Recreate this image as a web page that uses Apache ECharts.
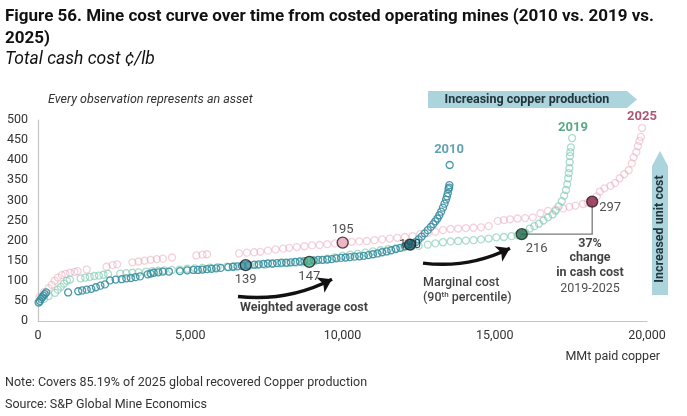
<!DOCTYPE html>
<html>
<head>
<meta charset="utf-8">
<script src="https://cdn.jsdelivr.net/npm/echarts@6/dist/echarts.min.js"></script>
<style>
  html, body { margin: 0; padding: 0; background: #fff; }
  #chart { width: 687px; height: 416px; }
</style>
</head>
<body>
<div id="chart"></div>
<script>
// [cumulative paid copper, total cash cost c/lb] — one point per asset
const mines2010 = [[20,46],[60,50],[100,55],[140,59],[180,63],[220,67],[270,71],[990,71],[1320,74],[1450,76],[1600,78],[1750,80],[1900,84],[2050,88],[2200,91],[2365,101],[2550,103],[2750,104],[2900,106],[3050,107],[3200,109],[3350,111],[3600,116],[3700,118],[3800,120],[3950,121],[4100,123],[4300,123],[4660,124],[4900,126],[5100,127],[5250,127],[5400,128],[5550,129],[5700,130],[5850,131],[6000,132],[6250,134],[6400,135],[6550,136],[6700,137],[6900,139],[7100,140],[7250,141],[7400,142],[7550,143],[7700,143],[7850,144],[8000,145],[8150,145],[8300,146],[8450,147],[8600,148],[8750,149],[8900,150],[9050,151],[9200,152],[9350,152],[9500,153],[9650,154],[9800,156],[9950,157],[10100,158],[10250,159],[10400,160],[10550,161],[10700,162],[10850,164],[11000,166],[11150,168],[11300,171],[11450,173],[11600,176],[11750,179],[11900,182],[12050,186],[12150,188],[12300,192],[12400,196],[12500,203],[12600,210],[12700,218],[12800,226],[12900,234],[12980,241],[13050,248],[13120,255],[13180,263],[13240,272],[13300,282],[13350,292],[13400,302],[13430,310],[13460,318],[13480,328],[13500,332],[13510,338],[13520,388]];
const mines2019 = [[60,48],[200,55],[350,62],[560,70],[650,78],[750,85],[850,93],[950,100],[1050,103],[1400,106],[1550,108],[1700,110],[1850,112],[2000,113],[2150,115],[2300,117],[2700,118],[2900,119],[3100,120],[3300,121],[3550,123],[3750,124],[3950,125],[4150,126],[4400,127],[4650,128],[4900,130],[5150,131],[5400,132],[5650,133],[5900,134],[6200,135],[6450,136],[6700,137],[6950,138],[7200,139],[7450,140],[7700,142],[7950,143],[8200,144],[8450,145],[8700,146],[9100,149],[9300,152],[9500,155],[9750,158],[10000,162],[10250,165],[10500,167],[10750,170],[11000,173],[11250,176],[11500,179],[11750,181],[12000,183],[12250,185],[12500,187],[12800,190],[13050,193],[13300,196],[13550,198],[13800,199],[14050,200],[14300,201],[14550,203],[14800,205],[15050,208],[15300,209],[15550,211],[15750,213],[16000,220],[16150,230],[16300,236],[16450,242],[16600,250],[16750,258],[16900,265],[17000,274],[17100,285],[17200,298],[17280,312],[17340,326],[17380,340],[17410,355],[17430,368],[17450,380],[17460,395],[17470,410],[17480,420],[17500,432],[17540,455]];
const mines2025 = [[50,60],[200,72],[350,82],[450,90],[550,100],[650,108],[780,114],[900,117],[1050,120],[1200,122],[1300,124],[1600,128],[2250,135],[2450,139],[2600,141],[3100,146],[3300,148],[3500,150],[3700,152],[3900,154],[4100,155],[4400,158],[5200,163],[5400,165],[5550,166],[6600,168],[6860,170],[7100,171],[7300,172],[7550,175],[7800,178],[8050,180],[8250,182],[8500,184],[8750,186],[9000,188],[9250,189],[9500,191],[9750,193],[10300,197],[10550,198],[10800,199],[11050,201],[11300,203],[11550,205],[11800,207],[12050,209],[12300,211],[12550,216],[12800,219],[13050,222],[13300,226],[13550,229],[13800,230],[14050,231],[14300,232],[14550,233],[14800,236],[15100,249],[15300,251],[15500,253],[15750,255],[16000,256],[16250,258],[16500,268],[16750,274],[17000,277],[17250,280],[17450,284],[17650,287],[17900,291],[18050,294],[18350,310],[18450,322],[18600,330],[18800,336],[18950,343],[19100,355],[19250,365],[19400,375],[19500,392],[19560,407],[19650,420],[19700,435],[19750,448],[19800,458],[19836,480]];

// highlighted points: weighted average cost and marginal (90th pct) cost
const years = ['2010', '2019', '2025'];
const wacX = [6820, 8910, 10005];
const wacY = [139, 147, 195];
const mcX = [12217, 15885, 18200];
const mcY = [190, 216, 297];
const yTicks = [0, 50, 100, 150, 200, 250, 300, 350, 400, 450, 500];
const xTicks = [0, 5000, 10000, 15000, 20000];

const teal = '#3a8fa1', mint = '#7fcbb0', pink = '#e59bb0';
const wacColors = ['#3b8c9e', '#4db088', '#e8a3b7'];
const mcColors = ['#1f5e6c', '#166b47', '#8c1c42'];
const yearColors = ['#3a8ca1', '#2f936a', '#9c2a50'];
const FONT = 'Roboto, "Liberation Sans", sans-serif';
const NARROW = '"Liberation Sans Narrow", "Roboto", sans-serif';

var myChart = echarts.init(document.getElementById('chart'));

function cloud(name, data, color, opacity) {
  return {
    name: name, type: 'scatter', data: data, symbol: 'circle', symbolSize: 7,
    itemStyle: { color: 'rgba(255,255,255,0)', borderColor: color, borderWidth: 1.3, opacity: opacity },
    silent: true
  };
}

// label-only helper points
function note(x, y, text, style) {
  return { value: [x, y], label: Object.assign({ show: true, formatter: text }, style) };
}

const bigMarker = (x, y, c) => ({ value: [x, y], itemStyle: { color: c } });

myChart.setOption({
  animation: false,
  grid: { left: 38, right: 40, top: 120, bottom: 95 },
  xAxis: {
    type: 'value', min: xTicks[0], max: xTicks[xTicks.length - 1], interval: 5000,
    axisLine: { lineStyle: { color: '#c4c4c4', width: 1.2 } },
    axisTick: { show: false }, splitLine: { show: false },
    axisLabel: { color: '#333', fontSize: 12.5, fontFamily: FONT, margin: 8,
      formatter: v => v.toLocaleString('en-US') }
  },
  yAxis: {
    type: 'value', min: yTicks[0], max: yTicks[yTicks.length - 1], interval: 50,
    axisLine: { show: true, lineStyle: { color: '#c4c4c4', width: 1.2 } },
    axisTick: { show: false }, splitLine: { show: false },
    axisLabel: { color: '#333', fontSize: 12.5, fontFamily: FONT, margin: 10 }
  },
  series: [
    cloud('2025', mines2025, pink, 0.45),
    cloud('2019', mines2019, mint, 0.65),
    cloud('2010', mines2010, teal, 0.9),
    // 2010 marginal label sits behind its marker, like the original
    {
      type: 'scatter', symbolSize: 0, silent: true, z: 3,
      data: [note(mcX[0], mcY[0], String(mcY[0]), { position: 'inside', color: '#222', fontSize: 13, fontFamily: FONT })]
    },
    // bracket 2019 -> 2025 marginal cost
    {
      type: 'lines', coordinateSystem: 'cartesian2d', polyline: true, silent: true, z: 4,
      symbol: ['none', 'triangle'], symbolSize: 9,
      lineStyle: { color: '#7a7a7a', width: 1.3, opacity: 1 },
      itemStyle: { color: '#111' },
      data: [{ coords: [[mcX[1], mcY[1]], [mcX[2], mcY[1]], [mcX[2], mcY[2] - 9]] }]
    },
    // curved call-out arrows
    {
      type: 'lines', coordinateSystem: 'cartesian2d', silent: true, z: 4,
      symbol: ['none', 'arrow'], symbolSize: 13,
      lineStyle: { color: '#111', width: 3.5, curveness: -0.15, opacity: 1 },
      data: [
        { coords: [[6568, 61], [9655, 104]] },
        { coords: [[12644, 144], [15500, 181]] }
      ]
    },
    {
      type: 'scatter', symbolSize: 11, silent: true, z: 5,
      itemStyle: { borderColor: '#222', borderWidth: 1.4 },
      data: wacX.map((x, i) => bigMarker(x, wacY[i], wacColors[i]))
        .concat(mcX.map((x, i) => bigMarker(x, mcY[i], mcColors[i])))
    },
    // value labels and text notes
    {
      type: 'scatter', symbolSize: 0, silent: true, z: 6, clip: false,
      data: [
        note(wacX[0], wacY[0], String(wacY[0]), { position: 'bottom', distance: 8, color: '#222', fontSize: 13, fontFamily: FONT }),
        note(wacX[1], wacY[1], String(wacY[1]), { position: 'bottom', distance: 8, color: '#222', fontSize: 13, fontFamily: FONT }),
        note(wacX[2], wacY[2], String(wacY[2]), { position: 'top', distance: 6, color: '#222', fontSize: 13, fontFamily: FONT }),
        note(mcX[1], mcY[1], String(mcY[1]), { position: [4, 8], color: '#222', fontSize: 13, fontFamily: FONT }),
        note(mcX[2], mcY[2], String(mcY[2]), { position: [7, 0], color: '#222', fontSize: 13, fontFamily: FONT }),
        note(13500, 425, years[0], { position: 'inside', color: yearColors[0], fontSize: 13, fontWeight: 'bold', fontFamily: FONT }),
        note(17570, 480, years[1], { position: 'inside', color: yearColors[1], fontSize: 13, fontWeight: 'bold', fontFamily: FONT }),
        note(19836, 508, years[2], { position: 'inside', color: yearColors[2], fontSize: 13, fontWeight: 'bold', fontFamily: FONT }),
        note(6634, 32, 'Weighted average cost', { position: 'right', distance: 0, color: '#111', fontSize: 12.5, fontWeight: 'bold', fontFamily: FONT }),
        note(12644, 94, 'Marginal cost', { position: 'right', distance: 0, color: '#111', fontSize: 12.5, fontWeight: 500, fontFamily: FONT }),
        note(12644, 57, '(90{sup|th} percentile)', { position: 'right', distance: 0, color: '#111', fontSize: 12.5, fontWeight: 500, fontFamily: FONT,
          rich: { sup: { fontSize: 8, verticalAlign: 'top', padding: [0, 0, 6, 0], color: '#111', fontFamily: FONT } } }),
        note(18128, 193, '37%', { position: 'inside', color: '#111', fontSize: 12.5, fontWeight: 'bold', fontFamily: FONT }),
        note(18128, 156, 'change', { position: 'inside', color: '#111', fontSize: 12.5, fontWeight: 'bold', fontFamily: FONT }),
        note(18128, 119, 'in cash cost', { position: 'inside', color: '#111', fontSize: 12.5, fontWeight: 'bold', fontFamily: FONT }),
        note(18128, 81, '2019-2025', { position: 'inside', color: '#222', fontSize: 12.5, fontFamily: FONT })
      ]
    }
  ],
  graphic: [
    { type: 'text', left: 5, top: 6, style: { text: 'Figure 56. Mine cost curve over time from costed operating mines (2010 vs. 2019 vs.\n2025)',
      font: 'bold 17px ' + NARROW, fill: '#111', lineHeight: 22 } },
    { type: 'text', left: 5, top: 51, style: { text: 'Total cash cost ¢/lb', font: 'italic 17.5px ' + NARROW, fill: '#111' } },
    { type: 'text', left: 48, top: 93, style: { text: 'Every observation represents an asset', font: 'italic 12.5px ' + FONT, fill: '#333' } },
    { type: 'polygon', shape: { points: [[428, 91], [627, 91], [637, 99.5], [627, 108], [428, 108]] }, style: { fill: '#acd4dc' } },
    { type: 'text', x: 527, y: 100, style: { text: 'Increasing copper production', font: 'bold 12.5px ' + FONT, fill: '#22343c',
      textAlign: 'center', textVerticalAlign: 'middle' } },
    { type: 'polygon', shape: { points: [[652, 166], [660, 151], [668, 166], [668, 295], [652, 295]] }, style: { fill: '#acd4dc' } },
    { type: 'text', x: 660, y: 229, rotation: Math.PI / 2, style: { text: 'Increased unit cost', font: 'bold 12.5px ' + FONT, fill: '#22343c',
      textAlign: 'center', textVerticalAlign: 'middle' } },
    { type: 'text', right: 27, top: 350, style: { text: 'MMt paid copper', font: '12.5px ' + FONT, fill: '#333' } },
    { type: 'text', left: 5, top: 376, style: { text: 'Note: Covers 85.19% of 2025 global recovered Copper production', font: '12.5px ' + FONT, fill: '#333' } },
    { type: 'text', left: 5, top: 398, style: { text: 'Source: S&P Global Mine Economics', font: '12.5px ' + FONT, fill: '#333' } }
  ]
});
</script>
</body>
</html>
